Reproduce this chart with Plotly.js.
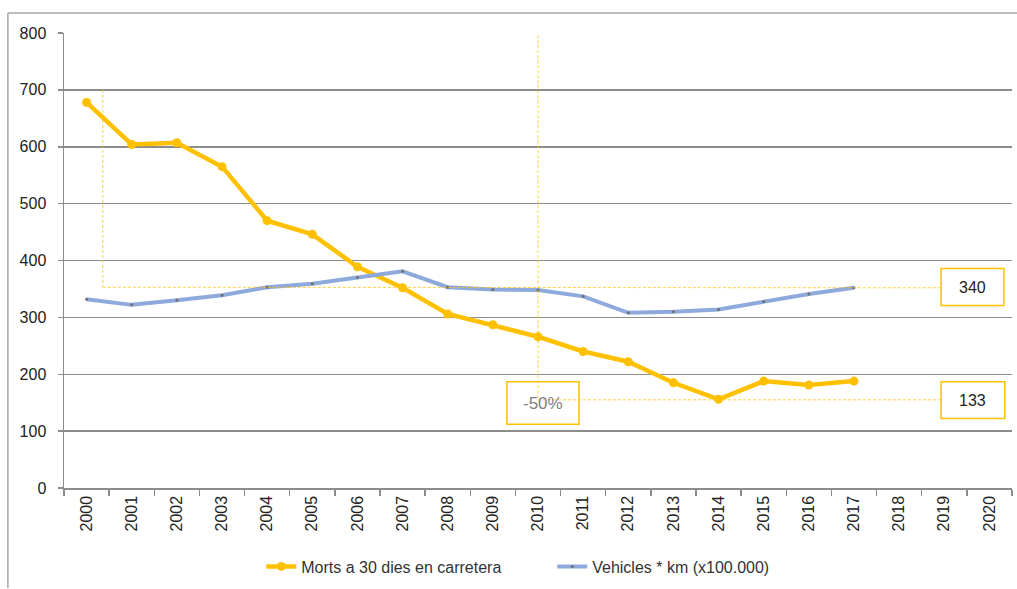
<!DOCTYPE html>
<html>
<head>
<meta charset="utf-8">
<script src="https://cdn.plot.ly/plotly-3.0.1.min.js"></script>
<style>
  html, body { margin: 0; padding: 0; background: #fff; }
  #chart { width: 1017px; height: 589px; }
</style>
</head>
<body>
<div id="chart"></div>
<script>
const years = ['2000','2001','2002','2003','2004','2005','2006','2007','2008','2009','2010',
               '2011','2012','2013','2014','2015','2016','2017','2018','2019','2020'];
const mortsYears = years.slice(0, 18);
const morts = [678, 604, 607, 565, 470, 446, 389, 352, 306, 287, 266, 240, 222, 185, 156, 188, 181, 188];
const vehicles = [332, 322, 330, 339, 353, 359, 370, 381, 353, 349, 348, 337, 308, 310, 314, 328, 341, 352];
const labelMorts = 'Morts a 30 dies en carretera';
const labelVehicles = 'Vehicles * km (x100.000)';
const refVehicles = '340';
const refMorts = '133';
const reduction = '-50%';

const orange = '#FFC000';
const blue = '#8EA9DB';
const grid = '#8c8c8c';
const dashCol = 'rgba(255,192,0,0.75)';

const traces = [
  {
    x: mortsYears, y: morts, name: labelMorts, type: 'scatter', mode: 'lines+markers',
    line: { color: orange, width: 4.5 },
    marker: { color: orange, size: 9 }
  },
  {
    x: mortsYears, y: vehicles, name: labelVehicles, type: 'scatter', mode: 'lines+markers',
    line: { color: blue, width: 4 },
    marker: { color: '#6f6f6f', size: 3 }
  }
];

const dl = { color: dashCol, width: 1, dash: '3px,2px' };
const box = { color: orange, width: 1.5 };

const layout = {
  width: 1017, height: 589,
  margin: { l: 64, r: 5, t: 33, b: 98 },
  paper_bgcolor: '#fff', plot_bgcolor: '#fff',
  font: { family: 'Liberation Sans, Arial, sans-serif', color: '#222' },
  showlegend: true,
  legend: {
    orientation: 'h', x: 0.515, xanchor: 'center', y: -0.1725, yanchor: 'middle',
    font: { size: 16, color: '#333' }, traceorder: 'normal',
    entrywidth: 246, entrywidthmode: 'pixels'
  },
  xaxis: {
    type: 'category', categoryorder: 'array', categoryarray: years,
    range: [-0.5, 20.5], tickangle: -90,
    tickfont: { size: 16, color: '#222' },
    showgrid: false, zeroline: false,
    showline: true, linecolor: grid, linewidth: 1.5,
    ticks: 'outside', tickson: 'boundaries', ticklen: 6, tickcolor: grid, tickwidth: 1.5,
    fixedrange: true
  },
  yaxis: {
    range: [0, 800], dtick: 100, tick0: 0,
    tickfont: { size: 16, color: '#222' },
    showgrid: true, gridcolor: grid, gridwidth: 1.5,
    zeroline: false,
    showline: true, linecolor: grid, linewidth: 1.5,
    ticks: 'outside', ticklen: 5, tickcolor: grid, tickwidth: 1.5,
    ticklabelstandoff: 8,
    fixedrange: true
  },
  shapes: [
    { type: 'line', xref: 'paper', yref: 'paper', x0: -0.0592, x1: 1.01, y0: 1.0437, y1: 1.0437,
      line: { color: '#a6a6a6', width: 1.5 } },
    { type: 'line', xref: 'paper', yref: 'paper', x0: -0.0592, x1: -0.0592, y0: 1.0437, y1: -0.22,
      line: { color: '#a6a6a6', width: 1.5 } },
    { type: 'line', xref: 'x', yref: 'y', x0: 0.36, x1: 0.36, y0: 700, y1: 353, line: dl },
    { type: 'line', xref: 'x', yref: 'y', x0: 0.36, x1: 18.93, y0: 353, y1: 352, line: dl },
    { type: 'line', xref: 'x', yref: 'y', x0: 10, x1: 10, y0: 796, y1: 155, line: dl },
    { type: 'line', xref: 'x', yref: 'y', x0: 10, x1: 18.93, y0: 155, y1: 155, line: dl },
    { type: 'rect', xref: 'x', yref: 'y', x0: 18.93, x1: 20.32, y0: 321, y1: 386,
      line: box, fillcolor: 'rgba(255,255,255,0)' },
    { type: 'rect', xref: 'x', yref: 'y', x0: 18.93, x1: 20.34, y0: 122, y1: 187,
      line: box, fillcolor: 'rgba(255,255,255,0)' },
    { type: 'rect', xref: 'x', yref: 'y', x0: 9.31, x1: 10.91, y0: 112, y1: 187,
      line: box, fillcolor: 'rgba(255,255,255,0)' }
  ],
  annotations: [
    { xref: 'x', yref: 'y', x: 19.63, y: 353, text: refVehicles, showarrow: false,
      font: { size: 16, color: '#222' } },
    { xref: 'x', yref: 'y', x: 19.63, y: 154, text: refMorts, showarrow: false,
      font: { size: 16, color: '#222' } },
    { xref: 'x', yref: 'y', x: 10.1, y: 149, text: reduction, showarrow: false,
      font: { size: 17, color: '#7f7f7f' } }
  ]
};

Plotly.newPlot('chart', traces, layout, { displayModeBar: false, staticPlot: true });
</script>
</body>
</html>
